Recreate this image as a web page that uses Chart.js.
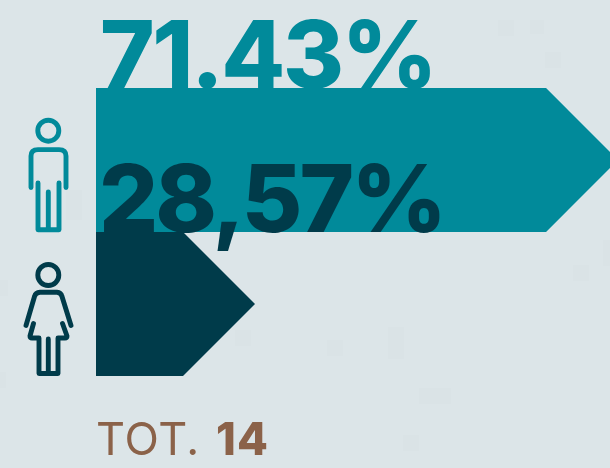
<!DOCTYPE html>
<html>
<head>
<meta charset="utf-8">
<style>
html,body{margin:0;padding:0;background:#dce5e8;}
#wrap{position:relative;width:610px;height:468px;overflow:hidden;}
canvas{display:block;}
</style>
<script src="https://cdn.jsdelivr.net/npm/chart.js@4"></script>
</head>
<body>
<div id="wrap"><canvas id="c" width="610" height="468"></canvas></div>
<script>
const categories = ["Uomini", "Donne"];
const percentages = [71.43, 28.57];
const percentLabels = ["71.43%", "28,57%"];
const barColors = ["#018a9a", "#003b4a"];
const totalPrefix = "TOT.";
const totalValue = "14";

const BROWN = "#8b6249";
const BIG_FONT = '800 93px Inter, sans-serif';

/* Bars are arrows: the tip is a 45-degree point inside the bar's length. */
Chart.BarElement.prototype.draw = function (ctx) {
  const p = this.getProps(['x', 'y', 'base', 'height'], true);
  const half = p.height / 2;
  ctx.save();
  ctx.fillStyle = this.options.backgroundColor;
  ctx.beginPath();
  ctx.moveTo(p.base, p.y - half);
  ctx.lineTo(p.x - half, p.y - half);
  ctx.lineTo(p.x, p.y);
  ctx.lineTo(p.x - half, p.y + half);
  ctx.lineTo(p.base, p.y + half);
  ctx.closePath();
  ctx.fill();
  ctx.restore();
};

function drawMan(ctx, color) {
  ctx.strokeStyle = color; ctx.lineWidth = 4.9; ctx.lineCap = 'round'; ctx.lineJoin = 'round';
  ctx.beginPath(); ctx.arc(48.3, 130.7, 10.5, 0, Math.PI * 2); ctx.stroke();
  ctx.beginPath();
  ctx.moveTo(31, 187.5); ctx.lineTo(31, 156); ctx.quadraticCurveTo(31, 149.6, 38, 149.6);
  ctx.lineTo(59, 149.6); ctx.quadraticCurveTo(66, 149.6, 66, 156); ctx.lineTo(66, 187.5);
  ctx.stroke();
  ctx.beginPath();
  ctx.moveTo(38, 183); ctx.lineTo(38, 229.8); ctx.lineTo(59, 229.8); ctx.lineTo(59, 183);
  ctx.moveTo(48.3, 192); ctx.lineTo(48.3, 229.8);
  ctx.stroke();
}

function drawWoman(ctx, color) {
  ctx.strokeStyle = color; ctx.lineWidth = 4.9; ctx.lineCap = 'round'; ctx.lineJoin = 'round';
  ctx.beginPath(); ctx.arc(48.3, 275, 10.5, 0, Math.PI * 2); ctx.stroke();
  ctx.beginPath();
  ctx.moveTo(26, 325.5); ctx.lineTo(34.5, 296.5); ctx.quadraticCurveTo(35.5, 292.5, 40, 292.3);
  ctx.lineTo(57, 292.3); ctx.quadraticCurveTo(61, 292.5, 62, 296.5); ctx.lineTo(71, 325.5);
  ctx.stroke();
  ctx.beginPath();
  ctx.moveTo(33.5, 323.5); ctx.lineTo(30, 336); ctx.quadraticCurveTo(30, 338, 32, 338);
  ctx.lineTo(39, 338); ctx.lineTo(39, 373.5); ctx.lineTo(58, 373.5); ctx.lineTo(58, 338);
  ctx.lineTo(65, 338); ctx.quadraticCurveTo(67, 338, 67, 336); ctx.lineTo(62.5, 323.5);
  ctx.moveTo(48.3, 339); ctx.lineTo(48.3, 373.5);
  ctx.stroke();
}

const blotches = [
  [327,340,16,16],[388,327,16,32],[419,388,32,16],[403,435,16,16],[573,265,16,16],
  [603,240,7,26],[235,330,16,16],[545,52,16,16],[498,20,16,16],[530,20,14,14],
  [66,190,16,30],[0,372,6,16],[0,280,8,16]
];

function fitText(ctx, text, x, y, targetWidth) {
  ctx.letterSpacing = '0px';
  const natural = ctx.measureText(text).width;
  ctx.letterSpacing = ((targetWidth - natural) / text.length).toFixed(2) + 'px';
  ctx.fillText(text, x, y);
  ctx.letterSpacing = '0px';
}

const artPlugin = {
  id: 'art',
  beforeDatasetsDraw(chart) {
    const ctx = chart.ctx;
    ctx.save();
    ctx.fillStyle = '#dae3e6';
    blotches.forEach(b => ctx.fillRect(b[0], b[1], b[2], b[3]));
    ctx.font = BIG_FONT;
    ctx.fillStyle = barColors[0];
    ctx.textBaseline = 'alphabetic';
    ctx.textAlign = 'left';
    fitText(ctx, percentLabels[0], 100, 88, 335);
    ctx.restore();
  },
  afterDatasetsDraw(chart) {
    const ctx = chart.ctx;
    ctx.save();
    ctx.font = BIG_FONT;
    ctx.fillStyle = barColors[1];
    ctx.textBaseline = 'alphabetic';
    ctx.textAlign = 'left';
    fitText(ctx, percentLabels[1], 99, 232, 345);
    drawMan(ctx, barColors[0]);
    drawWoman(ctx, barColors[1]);
    ctx.fillStyle = BROWN;
    ctx.font = '400 45px Inter, sans-serif';
    fitText(ctx, totalPrefix, 96, 455, 104);
    ctx.font = '800 45px Inter, sans-serif';
    fitText(ctx, totalValue, 216, 455, 53);
    ctx.restore();
  }
};

new Chart(document.getElementById('c'), {
  type: 'bar',
  data: {
    labels: categories,
    datasets: [{
      data: percentages,
      backgroundColor: barColors,
      barPercentage: 1,
      categoryPercentage: 1,
      borderWidth: 0
    }]
  },
  options: {
    indexAxis: 'y',
    responsive: false,
    animation: false,
    layout: { padding: { left: 96, right: 0, top: 88, bottom: 92 } },
    plugins: { legend: { display: false }, tooltip: { enabled: false }, title: { display: false } },
    scales: {
      x: { display: false, min: 9.8, max: 70.48 },
      y: { display: false }
    }
  },
  plugins: [artPlugin]
});
</script>
</body>
</html>
